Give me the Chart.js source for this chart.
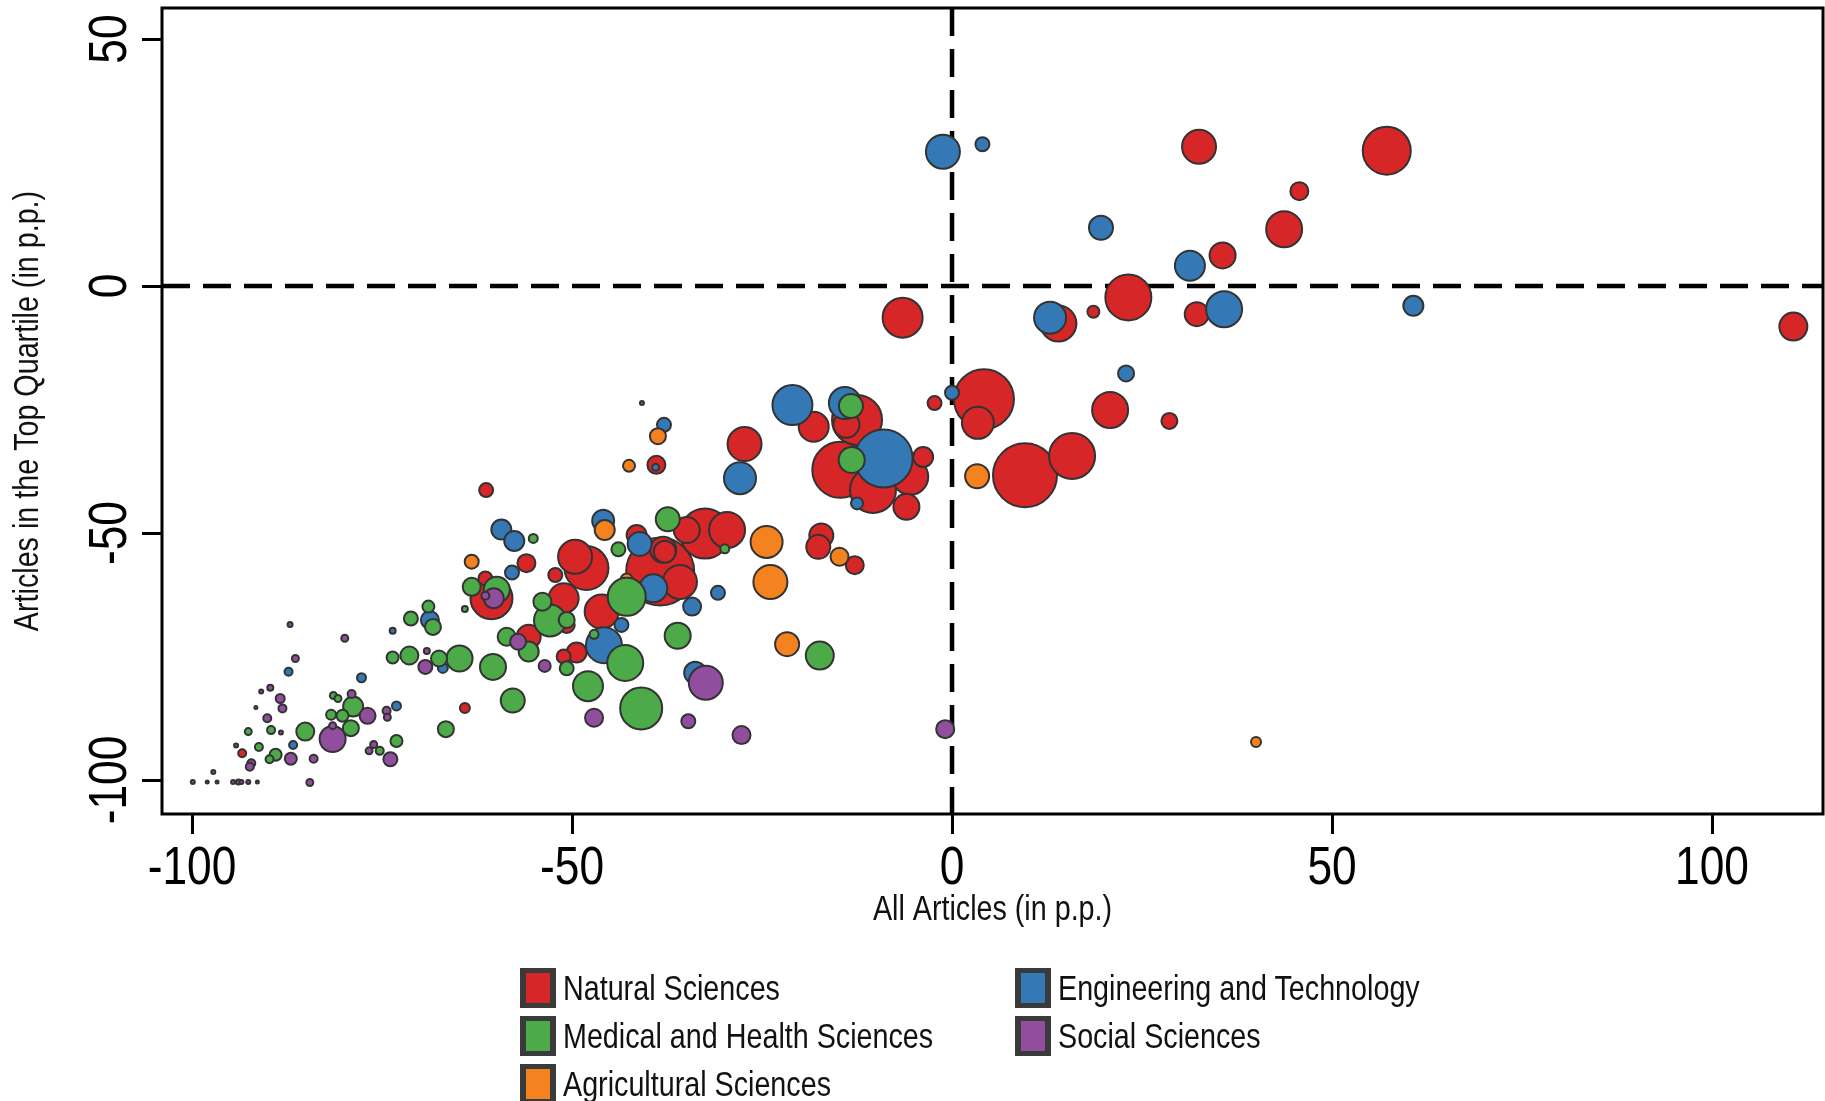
<!DOCTYPE html>
<html>
<head>
<meta charset="utf-8">
<title>Articles in the Top Quartile vs All Articles</title>
<script src="https://cdn.jsdelivr.net/npm/chart.js@4.4.1/dist/chart.umd.min.js"></script>
<style>
	html, body { margin: 0; padding: 0; background: #fff; }
	#wrap { position: relative; width: 1825px; height: 1101px; overflow: hidden; }
	#chart { position: absolute; left: 0; top: 0; }
	.legend-item {
		position: absolute;
		display: flex;
		align-items: center;
		height: 40px;
		white-space: nowrap;
		font-family: 'Liberation Sans', Arial, sans-serif;
		font-size: 35px;
		color: #111;
	}
	.legend-swatch {
		box-sizing: border-box;
		width: 36px;
		height: 40px;
		border-style: solid;
		border-color: #3a3a3a;
		border-width: 5px 6px;
		margin-right: 7px;
		flex: none;
	}
	.legend-text {
		display: inline-block;
		transform: scaleX( 0.82 );
		transform-origin: left center;
	}
</style>
</head>
<body>
<div id="wrap">
	<canvas id="chart" width="1825" height="1101"></canvas>
	<div id="legend"></div>
</div>
<script>
( function() {
	'use strict';

	// Field names, legend order (two columns, row by row).
	var fieldNames = [
		'Natural Sciences',
		'Engineering and Technology',
		'Medical and Health Sciences',
		'Social Sciences',
		'Agricultural Sciences'
	];

	// Each point: [ change in all articles, change in top-quartile articles, size ].
	var naturalSciences = [
		[ 32.5, 28.2, 17 ], [ 57.2, 27.4, 24 ], [ 45.7, 19.2, 9 ], [ 43.7, 11.5, 18 ],
		[ 35.6, 6.2, 13 ], [ 23.2, -2.3, 23 ], [ 32.2, -5.7, 12 ], [ 18.6, -5.2, 6 ],
		[ 14.0, -7.6, 18 ], [ 110.7, -8.2, 14 ], [ -6.5, -6.4, 20 ], [ 20.8, -25.1, 18 ],
		[ 28.6, -27.3, 8 ], [ 4.2, -22.9, 30 ], [ 3.4, -27.7, 16 ], [ -2.3, -23.7, 7 ],
		[ 9.6, -38.3, 32 ], [ 15.8, -34.4, 23 ], [ -18.2, -28.5, 15 ], [ -12.5, -27.1, 25 ],
		[ -13.9, -28.1, 13 ], [ -14.7, -37.2, 28 ], [ -10.4, -41.3, 23 ], [ -5.5, -38.6, 18 ],
		[ -3.8, -34.6, 10 ], [ -6.0, -44.7, 13 ], [ -27.3, -32.0, 17 ], [ -38.9, -36.2, 9 ],
		[ -32.5, -50.1, 25 ], [ -29.6, -49.4, 18 ], [ -34.9, -49.4, 13 ], [ -17.2, -50.5, 12 ],
		[ -17.6, -52.8, 12 ], [ -12.8, -56.5, 9 ], [ -38.0, -53.4, 13 ], [ -35.8, -59.9, 17 ],
		[ -38.4, -57.8, 34 ], [ -61.3, -41.3, 7 ], [ -56.0, -56.1, 9 ], [ -60.6, -63.2, 21 ],
		[ -61.4, -59.2, 7 ], [ -52.2, -58.5, 7 ], [ -49.6, -54.8, 17 ], [ -48.1, -57.1, 22 ],
		[ -51.1, -63.2, 15 ], [ -50.7, -68.6, 8 ], [ -55.7, -71.0, 12 ], [ -64.1, -85.4, 5 ],
		[ -49.4, -74.2, 10 ], [ -51.1, -75.0, 7 ], [ -46.1, -65.9, 17 ], [ -41.5, -50.4, 10 ],
		[ -37.8, -53.8, 11 ], [ -93.4, -94.6, 4 ]
	];

	var engineeringTechnology = [
		[ -1.2, 27.2, 17 ], [ 4.0, 28.7, 7 ], [ 19.6, 11.8, 12 ], [ 31.3, 4.1, 15 ],
		[ 35.8, -4.7, 18 ], [ 12.9, -6.4, 16 ], [ 60.7, -4.0, 10 ], [ 22.9, -17.7, 8 ],
		[ 0.0, -21.6, 7 ], [ -21.0, -24.1, 20 ], [ -14.1, -23.7, 16 ], [ -9.0, -34.9, 29 ],
		[ -12.5, -44.0, 6 ], [ -27.9, -38.9, 16 ], [ -37.9, -28.1, 7 ], [ -39.0, -36.7, 3.5 ],
		[ -41.1, -52.2, 12 ], [ -45.9, -47.5, 11 ], [ -30.8, -62.1, 7 ], [ -34.2, -64.9, 9 ],
		[ -33.8, -78.3, 11 ], [ -39.3, -61.2, 14 ], [ -59.3, -49.3, 10 ], [ -57.6, -51.6, 10 ],
		[ -57.9, -58.0, 7 ], [ -45.8, -72.7, 18 ], [ -43.5, -68.6, 7 ], [ -68.7, -67.6, 9 ],
		[ -67.0, -77.3, 5 ], [ -73.6, -69.8, 3 ], [ -87.3, -78.1, 4 ], [ -77.7, -79.3, 4.5 ],
		[ -86.7, -92.9, 4 ], [ -73.1, -85.0, 4.5 ]
	];

	var medicalHealth = [
		[ -13.3, -24.3, 12 ], [ -13.2, -35.2, 13 ], [ -37.4, -47.2, 12 ], [ -29.9, -53.2, 4.5 ],
		[ -36.1, -70.8, 13 ], [ -17.4, -74.8, 14 ], [ -40.9, -85.5, 21 ], [ -55.1, -51.1, 4.5 ],
		[ -63.2, -60.9, 9 ], [ -59.9, -61.5, 13 ], [ -64.1, -65.4, 3 ], [ -53.9, -63.9, 9 ],
		[ -52.9, -67.7, 16 ], [ -50.7, -67.6, 8 ], [ -58.6, -71.0, 9 ], [ -55.7, -74.0, 10 ],
		[ -50.7, -77.4, 7 ], [ -60.4, -77.1, 13 ], [ -64.8, -75.4, 13 ], [ -67.5, -75.4, 8 ],
		[ -71.4, -74.8, 9 ], [ -68.9, -64.9, 6 ], [ -68.3, -69.0, 8 ], [ -71.2, -67.3, 7 ],
		[ -57.8, -83.9, 12 ], [ -66.6, -89.7, 8 ], [ -47.9, -81.0, 15 ], [ -43.0, -76.3, 18 ],
		[ -47.1, -70.5, 4.5 ], [ -42.8, -62.9, 19 ], [ -43.9, -53.3, 7 ], [ -73.6, -75.2, 6 ],
		[ -89.6, -89.9, 4 ], [ -91.2, -93.3, 4 ], [ -92.6, -90.2, 3.5 ], [ -85.1, -90.2, 9 ],
		[ -79.1, -89.5, 8 ], [ -89.0, -94.9, 6 ], [ -89.8, -95.8, 4 ], [ -78.8, -85.1, 10 ],
		[ -81.4, -82.9, 3.5 ], [ -80.8, -83.5, 3.5 ], [ -81.7, -86.8, 5 ], [ -80.2, -87.0, 6 ],
		[ -73.1, -92.1, 6 ], [ -75.3, -94.1, 4 ]
	];

	var socialSciences = [
		[ -0.9, -89.7, 9 ], [ -32.4, -80.3, 17 ], [ -34.7, -88.1, 7 ], [ -27.7, -90.9, 9 ],
		[ -47.1, -87.4, 9 ], [ -60.3, -63.2, 10 ], [ -61.4, -62.7, 4 ], [ -57.1, -72.0, 8 ],
		[ -53.6, -76.9, 6 ], [ -69.3, -77.1, 7 ], [ -69.1, -73.9, 3 ], [ -86.4, -75.4, 3.5 ],
		[ -88.4, -83.5, 4.5 ], [ -88.1, -85.5, 4 ], [ -90.1, -87.5, 4 ], [ -92.2, -96.6, 4 ],
		[ -92.4, -97.3, 4 ], [ -84.5, -100.5, 3.5 ], [ -81.5, -91.7, 13 ], [ -87.0, -95.7, 6 ],
		[ -84.0, -95.7, 4 ], [ -79.0, -82.6, 4 ], [ -81.5, -89.0, 3.5 ], [ -76.9, -87.0, 8 ],
		[ -74.4, -86.0, 4 ], [ -74.3, -87.3, 3.5 ], [ -76.1, -92.8, 3.5 ], [ -76.7, -94.1, 3.5 ],
		[ -73.9, -95.8, 7 ], [ -87.1, -68.5, 2.5 ], [ -79.9, -71.3, 3.5 ], [ -90.9, -82.1, 2 ],
		[ -89.7, -81.3, 3 ], [ -91.6, -85.3, 1.5 ], [ -88.3, -90.4, 2 ], [ -94.2, -93.0, 2 ],
		[ -97.2, -98.4, 2 ], [ -99.9, -100.4, 2 ], [ -98.0, -100.4, 1.5 ], [ -96.7, -100.4, 1.5 ],
		[ -94.6, -100.4, 2 ], [ -93.9, -100.4, 2.5 ], [ -93.5, -100.4, 2 ], [ -92.6, -100.4, 2 ],
		[ -91.4, -100.4, 1.5 ], [ -40.8, -23.7, 2 ]
	];

	var agriculturalSciences = [
		[ 3.3, -38.5, 12 ], [ 40.0, -92.3, 5 ], [ -38.7, -30.4, 8 ], [ -42.5, -36.4, 6 ],
		[ -24.4, -51.8, 16 ], [ -23.9, -59.9, 17 ], [ -14.8, -54.8, 9 ], [ -21.7, -72.5, 12 ],
		[ -45.7, -49.4, 10 ], [ -42.8, -59.4, 6 ], [ -63.2, -55.8, 7 ]
	];

	var xTickValues = [ -100, -50, 0, 50, 100 ];
	var yTickValues = [ 50, 0, -50, -100 ];
	var xAxisTitle = 'All Articles (in p.p.)';
	var yAxisTitle = 'Articles in the Top Quartile (in p.p.)';

	var fontFamily = "'Liberation Sans', Arial, sans-serif";
	var narrow = 0.82; // horizontal squeeze, narrow Helvetica look
	var edgeColor = '#333333';

	var fieldColors = {
		'Natural Sciences': '#D62628',
		'Engineering and Technology': '#3479B5',
		'Medical and Health Sciences': '#4CAA48',
		'Social Sciences': '#924E9E',
		'Agricultural Sciences': '#F4821F'
	};

	/**
	 * Build a bubble dataset, largest bubbles first so small ones stay visible.
	 *
	 * @param {string} label  Field name.
	 * @param {Array}  points Array of [ x, y, size ] triples.
	 * @param {number} order  Draw order (lower is drawn on top).
	 * @return {Object} Chart.js dataset.
	 */
	function bubbleSet( label, points, order ) {
		var data = points.map( function( p ) {
			return { x: p[ 0 ], y: p[ 1 ], r: p[ 2 ] };
		} ).sort( function( a, b ) {
			return b.r - a.r;
		} );

		return {
			label: label,
			data: data,
			backgroundColor: fieldColors[ label ],
			borderColor: edgeColor,
			borderWidth: 2,
			order: order
		};
	}

	/**
	 * Draw horizontally squeezed text.
	 *
	 * @param {CanvasRenderingContext2D} ctx      Canvas context.
	 * @param {string}                   text     Text to draw.
	 * @param {number}                   x        Anchor x.
	 * @param {number}                   y        Anchor y (baseline).
	 * @param {number}                   rotation Rotation in radians.
	 */
	function narrowText( ctx, text, x, y, rotation ) {
		ctx.save();
		ctx.translate( x, y );
		if ( rotation ) {
			ctx.rotate( rotation );
		}
		ctx.scale( narrow, 1 );
		ctx.textAlign = 'center';
		ctx.textBaseline = 'alphabetic';
		ctx.fillText( text, 0, 0 );
		ctx.restore();
	}

	// Frame, zero reference lines, tick labels and axis titles.
	var framePlugin = {
		id: 'frame',
		beforeDatasetsDraw: function( chart ) {
			var ctx = chart.ctx;
			var area = chart.chartArea;
			var x0 = chart.scales.x.getPixelForValue( 0 );
			var y0 = chart.scales.y.getPixelForValue( 0 );

			ctx.save();
			ctx.strokeStyle = '#000';
			ctx.lineWidth = 4.5;
			ctx.setLineDash( [ 28, 13 ] );
			ctx.beginPath();
			ctx.moveTo( x0, area.top );
			ctx.lineTo( x0, area.bottom );
			ctx.moveTo( area.left, y0 );
			ctx.lineTo( area.right, y0 );
			ctx.stroke();
			ctx.restore();
		},
		afterDraw: function( chart ) {
			var ctx = chart.ctx;
			var area = chart.chartArea;
			var xScale = chart.scales.x;
			var yScale = chart.scales.y;

			ctx.save();
			ctx.strokeStyle = '#000';
			ctx.lineWidth = 3;
			ctx.strokeRect( area.left, area.top, area.right - area.left, area.bottom - area.top );

			ctx.fillStyle = '#000';
			ctx.font = '54px ' + fontFamily;
			xTickValues.forEach( function( v ) {
				narrowText( ctx, String( v ), xScale.getPixelForValue( v ), area.bottom + 70, 0 );
			} );
			yTickValues.forEach( function( v ) {
				narrowText( ctx, String( v ), 126, yScale.getPixelForValue( v ), -Math.PI / 2 );
			} );

			ctx.fillStyle = '#111';
			ctx.font = '35px ' + fontFamily;
			narrowText( ctx, xAxisTitle, ( area.left + area.right ) / 2, area.bottom + 106, 0 );
			narrowText( ctx, yAxisTitle, 38, ( area.top + area.bottom ) / 2, -Math.PI / 2 );
			ctx.restore();
		}
	};

	var tickGrid = {
		drawOnChartArea: false,
		drawTicks: true,
		tickLength: 20,
		tickWidth: 3,
		tickColor: '#000'
	};

	new Chart( document.getElementById( 'chart' ), {
		type: 'bubble',
		data: {
			datasets: [
				bubbleSet( fieldNames[ 0 ], naturalSciences, 5 ),
				bubbleSet( fieldNames[ 1 ], engineeringTechnology, 4 ),
				bubbleSet( fieldNames[ 4 ], agriculturalSciences, 3 ),
				bubbleSet( fieldNames[ 2 ], medicalHealth, 2 ),
				bubbleSet( fieldNames[ 3 ], socialSciences, 1 )
			]
		},
		options: {
			responsive: false,
			animation: false,
			events: [],
			layout: {
				autoPadding: false,
				padding: { top: 8, right: 2, bottom: 171, left: 0 }
			},
			plugins: {
				legend: { display: false },
				tooltip: { enabled: false }
			},
			scales: {
				x: {
					type: 'linear',
					position: 'bottom',
					min: -103.95,
					max: 114.6,
					afterBuildTicks: function( scale ) {
						scale.ticks = xTickValues.map( function( v ) {
							return { value: v };
						} );
					},
					afterFit: function( scale ) {
						scale.height = 116;
					},
					grid: tickGrid,
					border: { display: false },
					ticks: { display: false }
				},
				y: {
					type: 'linear',
					min: -106.88,
					max: 56.28,
					afterBuildTicks: function( scale ) {
						scale.ticks = yTickValues.map( function( v ) {
							return { value: v };
						} );
					},
					afterFit: function( scale ) {
						scale.width = 162;
					},
					grid: tickGrid,
					border: { display: false },
					ticks: { display: false }
				}
			}
		},
		plugins: [ framePlugin ]
	} );

	// Legend grid below the plot, two columns.
	var legend = document.getElementById( 'legend' );
	var colLeft = [ 520, 1015 ];
	var rowTop = [ 968, 1016, 1064 ];

	fieldNames.forEach( function( name, i ) {
		var item = document.createElement( 'div' );
		item.className = 'legend-item';
		item.style.left = colLeft[ i % 2 ] + 'px';
		item.style.top = rowTop[ Math.floor( i / 2 ) ] + 'px';

		var swatch = document.createElement( 'span' );
		swatch.className = 'legend-swatch';
		swatch.style.backgroundColor = fieldColors[ name ];

		var text = document.createElement( 'span' );
		text.className = 'legend-text';
		text.textContent = name;

		item.appendChild( swatch );
		item.appendChild( text );
		legend.appendChild( item );
	} );
} )();
</script>
</body>
</html>
